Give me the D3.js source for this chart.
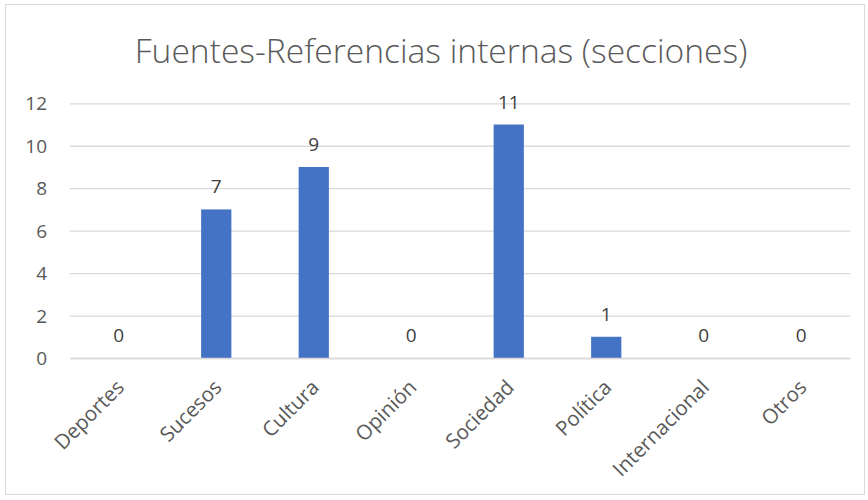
<!DOCTYPE html>
<html>
<head>
<meta charset="utf-8">
<script src="https://cdn.jsdelivr.net/npm/d3@7"></script>
<style>
  html, body { margin: 0; padding: 0; background: #fff; }
  text { font-family: "Open Sans", sans-serif; }
</style>
</head>
<body>
<svg id="chart" width="868" height="500"></svg>
<script>
const title = "Fuentes-Referencias internas (secciones)";
const categories = ["Deportes", "Sucesos", "Cultura", "Opinión", "Sociedad", "Política", "Internacional", "Otros"];
const values = [0, 7, 9, 0, 11, 1, 0, 0];
const yTicks = [0, 2, 4, 6, 8, 10, 12];

const W = 868, H = 500;
const margin = { left: 70, right: 18, top: 103.3, bottom: 142 };
const svg = d3.select("#chart");
const textColor = "#595959";

// chart border
svg.append("rect")
  .attr("x", 5.5).attr("y", 4.5)
  .attr("width", 859).attr("height", 490)
  .attr("fill", "#fff").attr("stroke", "#d9d9d9").attr("stroke-width", 1);

const x = d3.scaleBand()
  .domain(categories)
  .range([margin.left, W - margin.right])
  .paddingInner(0.69).paddingOuter(0.345);

const y = d3.scaleLinear()
  .domain([0, 12])
  .range([358, margin.top]);

// title
const t = svg.append("text")
  .attr("x", 441).attr("y", 63)
  .attr("text-anchor", "middle")
  .attr("fill", textColor)
  .style("font-weight", 300)
  .style("font-size", "30px")
  .text(title);
const tw = t.node().getComputedTextLength();
t.style("font-size", (30 * 613 / tw) + "px");

// gridlines
const yAxis = d3.axisLeft(y).tickValues(yTicks).tickSize(-(W - margin.right - margin.left)).tickPadding(23);
const gy = svg.append("g").attr("transform", `translate(${margin.left},0)`).call(yAxis);
gy.select(".domain").remove();
gy.selectAll(".tick line").attr("stroke", "#d9d9d9").attr("stroke-width", 1.3);
gy.selectAll(".tick text")
  .attr("fill", textColor)
  .style("font-size", "19px")
  .attr("dy", "0.35em");

// bars
svg.append("g").selectAll("rect.bar")
  .data(values)
  .join("rect")
  .attr("class", "bar")
  .attr("x", (d, i) => x(categories[i]))
  .attr("width", x.bandwidth())
  .attr("y", d => y(d))
  .attr("height", d => y(0) - y(d))
  .attr("fill", "#4472c4");

// value labels
svg.append("g").selectAll("text")
  .data(values)
  .join("text")
  .attr("x", (d, i) => x(categories[i]) + x.bandwidth() / 2)
  .attr("y", d => y(d) - 16)
  .attr("text-anchor", "middle")
  .attr("fill", "#404040")
  .style("font-size", "19px")
  .text(d => d);

// x axis labels
const xAxis = d3.axisBottom(x).tickSize(0).tickPadding(0);
const gx = svg.append("g").attr("transform", `translate(0,${y(0)})`).call(xAxis);
gx.select(".domain").attr("stroke", "#d9d9d9").attr("stroke-width", 1.3);
gx.selectAll(".tick text")
  .attr("fill", textColor)
  .style("font-size", "20.5px")
  .attr("text-anchor", "end")
  .attr("dominant-baseline", "central")
  .attr("dy", null)
  .attr("y", 0)
  .attr("transform", "translate(1,25) rotate(-45)");
</script>
</body>
</html>
